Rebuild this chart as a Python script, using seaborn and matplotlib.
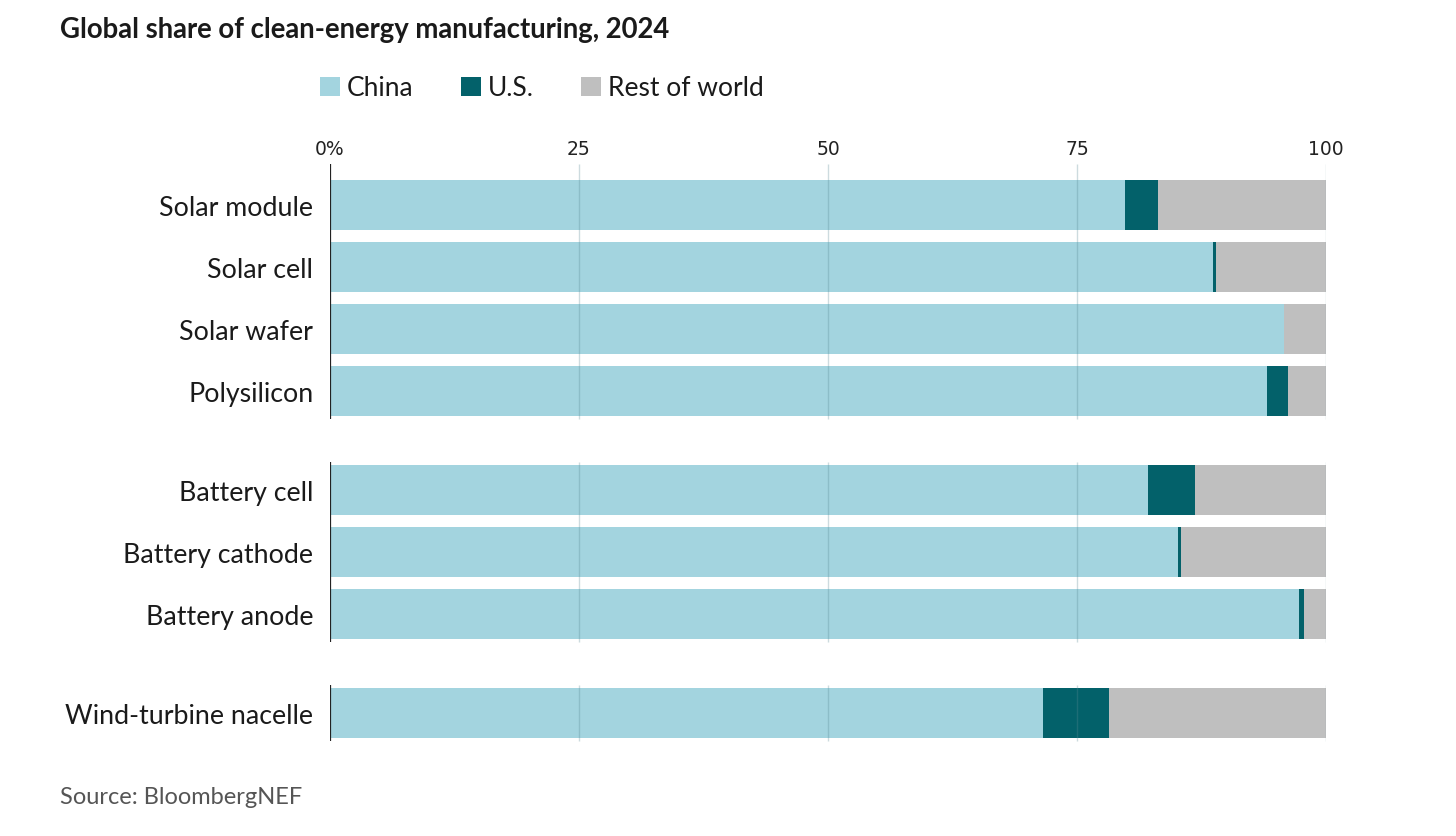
import numpy as np
import pandas as pd
import matplotlib
matplotlib.use("Agg")
import matplotlib.pyplot as plt
from matplotlib.patches import Patch
import seaborn as sns

# ---- data ----
categories = ["Solar module", "Solar cell", "Solar wafer", "Polysilicon",
              "Battery cell", "Battery cathode", "Battery anode",
              "Wind-turbine nacelle"]
groups = [0, 0, 0, 0, 1, 1, 1, 2]
china = [79.8, 88.7, 95.8, 94.1, 82.1, 85.1, 97.3, 71.6]
us = [3.3, 0.3, 0.0, 2.1, 4.7, 0.3, 0.5, 6.6]
rest_of_world = [16.9, 11.0, 4.2, 3.8, 13.2, 14.6, 2.2, 21.8]
tick_values = [0, 25, 50, 75, 100]
tick_labels = ["0%", "25", "50", "75", "100"]
series_names = ["China", "U.S.", "Rest of world"]

colors = {"China": "#a3d4df", "U.S.": "#03616a", "Rest of world": "#bfbfbf"}

# positions: extra gap between groups
group_gap = 0.6
pos = [i + g * group_gap for i, g in enumerate(groups)]

df = pd.DataFrame({
    "category": categories,
    "pos": pos,
    "china": china,
    "china_us": np.array(china) + np.array(us),
    "total": np.array(china) + np.array(us) + np.array(rest_of_world),
})

sns.set_theme(style="white")
plt.rcParams["font.family"] = ["Lato", "DejaVu Sans"]

W, H = 1456, 837
fig = plt.figure(figsize=(W / 100, H / 100), dpi=100)

ax_left, ax_right = 330 / W, 1326 / W
ax_top_px, ax_bot_px = 160, 745
ax = fig.add_axes([ax_left, 1 - ax_bot_px / H, ax_right - ax_left, (ax_bot_px - ax_top_px) / H])

bar_h = 50 / 62
for col, name in [("total", "Rest of world"), ("china_us", "U.S."), ("china", "China")]:
    sns.barplot(data=df, x=col, y="pos", orient="h", native_scale=True,
                color=colors[name], saturation=1, width=bar_h, errorbar=None,
                linewidth=0, ax=ax)

unit = 62.0
center0 = 206.0
ymin = (ax_bot_px - center0) / unit
ymax = (ax_top_px - center0) / unit
ax.set_ylim(ymin, ymax)
ax.set_xlim(0, 100)

# per-group axis line and grid segments
for gi in sorted(set(groups)):
    ps = [p for p, g in zip(pos, groups) if g == gi]
    top = min(ps) - bar_h / 2 - 3 / unit
    bot = max(ps) + bar_h / 2 + 3 / unit
    if gi == 0:
        top = (165 - center0) / unit
    ax.vlines(0, top, bot, color="#222222", lw=1.6, zorder=5)
    for tv in tick_values[1:]:
        ax.vlines(tv, top, bot, color="#5a8a95", lw=1.0, alpha=0.3, zorder=4)

ax.xaxis.tick_top()
ax.set_xticks(tick_values)
ax.set_xticklabels(tick_labels, family=["Liberation Sans Narrow", "DejaVu Sans"],
                   fontsize=13.5, color="#222222")
ax.tick_params(axis="x", length=0, pad=1)
ax.set_yticks(pos)
ax.set_yticklabels(categories, fontsize=19.3, color="#1a1a1a")
ax.tick_params(axis="y", length=0, pad=12)
ax.set_xlabel("")
ax.set_ylabel("")
for s in ax.spines.values():
    s.set_visible(False)
ax.grid(False)

fig.text(60 / W, 1 - 30 / H, "Global share of clean-energy manufacturing, 2024",
         fontsize=19.8, fontweight="bold", color="#1a1a1a", va="center", ha="left")

handles = [Patch(facecolor=colors[n], edgecolor="none") for n in series_names]
fig.legend(handles, series_names, loc="center left",
           bbox_to_anchor=(320 / W, 1 - 89 / H), ncol=3, frameon=False,
           fontsize=19, handlelength=0.76, handleheight=0.76,
           handletextpad=0.25, columnspacing=1.8, labelcolor="#1a1a1a",
           borderpad=0, borderaxespad=0)

fig.text(60 / W, 1 - 798 / H, "Source: BloombergNEF", fontsize=17,
         color="#555555", va="center", ha="left")

fig.savefig("out.png", dpi=100)
